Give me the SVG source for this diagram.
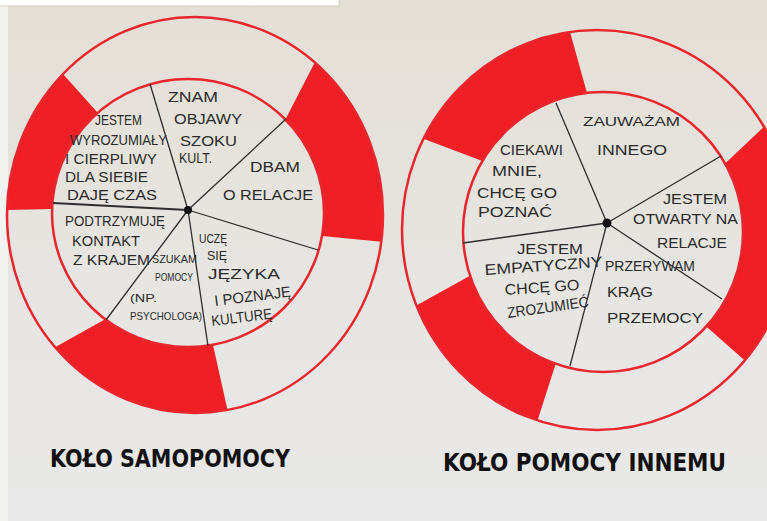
<svg xmlns="http://www.w3.org/2000/svg" width="767" height="521" viewBox="0 0 767 521">
<defs>
<linearGradient id="paper" x1="0" y1="0" x2="0" y2="1">
<stop offset="0" stop-color="#e4dfd6"/>
<stop offset="0.5" stop-color="#e7e5e1"/>
<stop offset="1" stop-color="#e9e9e9"/>
</linearGradient>
<style>
.red{fill:#f01f26;stroke:none}
.rim{fill:none;stroke:#e8262e;stroke-width:2.5}
.spoke{stroke:#2e2e2e;stroke-width:1.3;fill:none}
.hub{fill:#111}
.t{font-family:"Liberation Sans","DejaVu Sans",sans-serif;font-size:15px;fill:#2a2a2a}
.s{font-family:"Liberation Sans","DejaVu Sans",sans-serif;font-size:11px;fill:#2a2a2a}
.lbl{font-family:"DejaVu Sans","Liberation Sans",sans-serif;font-size:24px;font-weight:bold;fill:#111}
</style>
</defs>
<rect x="0" y="0" width="767" height="521" fill="url(#paper)"/>
<rect x="0" y="0" width="8" height="521" fill="#f3f3f1"/>
<rect x="-1" y="-1" width="340" height="7" fill="#ffffff" stroke="#d9ccb8" stroke-width="1"/>

<g id="ring-left">
<path class="red" d="M315,62 A188,198 0 0 1 381.3,241.7 L322,236 A136,134 0 0 0 285.4,119.5 Z"/>
<path class="red" d="M227.5,410 A188,198 0 0 1 55,347.2 L105.2,319.3 A136,134 0 0 0 213,345 Z"/>
<path class="red" d="M7,210 A188,198 0 0 1 63,74 L97.7,112.8 A136,134 0 0 0 52,209 Z"/>
<ellipse class="rim" cx="195" cy="215" rx="188" ry="198"/>
<ellipse class="rim" cx="188" cy="213" rx="136" ry="134"/>
</g>

<g id="ring-right">
<path class="red" d="M423.5,138.8 A195,200 0 0 1 570,32 L587,92.9 A140,140 0 0 0 482.3,161.1 Z"/>
<path class="red" d="M764,126.8 A195,200 0 0 1 744.8,360.4 L706.3,326.4 A140,140 0 0 0 725.1,163.6 Z"/>
<path class="red" d="M537.5,420.5 A195,200 0 0 1 416.4,305.4 L470,275.7 A140,140 0 0 0 555.7,363.8 Z"/>
<ellipse class="rim" cx="597" cy="230" rx="195" ry="200"/>
<ellipse class="rim" cx="603" cy="232" rx="140" ry="140"/>
</g>

<g id="connectors">
<line class="spoke" x1="188" y1="210" x2="150" y2="84"/>
<line class="spoke" x1="188" y1="210" x2="286" y2="119"/>
<line class="spoke" x1="188" y1="210" x2="318" y2="250"/>
<line class="spoke" x1="188" y1="210" x2="208" y2="346"/>
<line class="spoke" x1="188" y1="210" x2="106" y2="320"/>
<line class="spoke" x1="188" y1="210" x2="53" y2="203" style="stroke-width:2"/>
<line class="spoke" x1="607" y1="223" x2="556" y2="103"/>
<line class="spoke" x1="607" y1="223" x2="721" y2="156"/>
<line class="spoke" x1="607" y1="223" x2="722" y2="299"/>
<line class="spoke" x1="607" y1="223" x2="570" y2="366"/>
<line class="spoke" x1="607" y1="223" x2="463" y2="243"/>
<circle class="hub" cx="188" cy="210" r="4"/>
<circle class="hub" cx="607" cy="223" r="4.5"/>
</g>

<g id="node-znam-objawy">
<text class="t" x="168" y="102" textLength="50" lengthAdjust="spacingAndGlyphs">ZNAM</text>
<text class="t" x="174" y="124" textLength="68" lengthAdjust="spacingAndGlyphs">OBJAWY</text>
<text class="t" x="180" y="146" textLength="57" lengthAdjust="spacingAndGlyphs">SZOKU</text>
<text class="t" x="179" y="163" textLength="33" lengthAdjust="spacingAndGlyphs">KULT.</text>
</g>
<g id="node-dbam">
<text class="t" x="250" y="172" textLength="50" lengthAdjust="spacingAndGlyphs">DBAM</text>
<text class="t" x="223" y="200" textLength="90" lengthAdjust="spacingAndGlyphs">O RELACJE</text>
</g>
<g id="node-jestem-wyrozumialy">
<text class="t" x="95" y="125" textLength="47" lengthAdjust="spacingAndGlyphs">JESTEM</text>
<text class="t" x="70" y="145" textLength="97" lengthAdjust="spacingAndGlyphs">WYROZUMIAŁY</text>
<text class="t" x="65" y="164" textLength="92" lengthAdjust="spacingAndGlyphs">I CIERPLIWY</text>
<text class="t" x="65" y="182" textLength="83" lengthAdjust="spacingAndGlyphs">DLA SIEBIE</text>
<text class="t" x="67" y="200" textLength="90" lengthAdjust="spacingAndGlyphs">DAJĘ CZAS</text>
</g>
<g id="node-podtrzymuje">
<text class="t" x="65" y="226" textLength="100" lengthAdjust="spacingAndGlyphs">PODTRZYMUJĘ</text>
<text class="t" x="72" y="246" textLength="68" lengthAdjust="spacingAndGlyphs">KONTAKT</text>
<text class="t" x="73" y="265" textLength="77" lengthAdjust="spacingAndGlyphs">Z KRAJEM</text>
</g>
<g id="node-szukam-pomocy">
<text class="s" x="152" y="263" textLength="45" lengthAdjust="spacingAndGlyphs">SZUKAM</text>
<text class="s" x="155" y="281" textLength="38" lengthAdjust="spacingAndGlyphs">POMOCY</text>
<text class="s" x="130" y="302" textLength="27" lengthAdjust="spacingAndGlyphs">(NP.</text>
<text class="s" x="130" y="320" textLength="72" lengthAdjust="spacingAndGlyphs">PSYCHOLOGA)</text>
</g>
<g id="node-ucze-sie">
<text class="t" x="199" y="243" textLength="28" lengthAdjust="spacingAndGlyphs" style="font-size:12px">UCZĘ</text>
<text class="t" x="207" y="260" textLength="20" lengthAdjust="spacingAndGlyphs" style="font-size:12px">SIĘ</text>
<text class="t" x="208" y="279" textLength="72" lengthAdjust="spacingAndGlyphs">JĘZYKA</text>
<text class="t" x="215" y="306" textLength="77" lengthAdjust="spacingAndGlyphs" transform="rotate(-7 215 306)">I POZNAJĘ</text>
<text class="t" x="212" y="326" textLength="61" lengthAdjust="spacingAndGlyphs" transform="rotate(-7 212 326)">KULTURĘ</text>
</g>

<g id="node-zauwazam">
<text class="t" x="583" y="126" textLength="97" lengthAdjust="spacingAndGlyphs" style="font-size:13px">ZAUWAŻAM</text>
<text class="t" x="597" y="155" textLength="70" lengthAdjust="spacingAndGlyphs">INNEGO</text>
</g>
<g id="node-ciekawi">
<text class="t" x="500" y="155" textLength="63" lengthAdjust="spacingAndGlyphs">CIEKAWI</text>
<text class="t" x="492" y="176" textLength="50" lengthAdjust="spacingAndGlyphs">MNIE,</text>
<text class="t" x="477" y="198" textLength="80" lengthAdjust="spacingAndGlyphs">CHCĘ GO</text>
<text class="t" x="478" y="217" textLength="74" lengthAdjust="spacingAndGlyphs">POZNAĆ</text>
</g>
<g id="node-otwarty">
<text class="t" x="663" y="204" textLength="64" lengthAdjust="spacingAndGlyphs">JESTEM</text>
<text class="t" x="633" y="224" textLength="105" lengthAdjust="spacingAndGlyphs">OTWARTY NA</text>
<text class="t" x="657" y="248" textLength="70" lengthAdjust="spacingAndGlyphs">RELACJE</text>
</g>
<g id="node-empatyczny">
<text class="t" x="517" y="254" textLength="66" lengthAdjust="spacingAndGlyphs">JESTEM</text>
<text class="t" x="485" y="275" textLength="118" lengthAdjust="spacingAndGlyphs" transform="rotate(-4 485 275)">EMPATYCZNY</text>
<text class="t" x="505" y="295" textLength="75" lengthAdjust="spacingAndGlyphs" transform="rotate(-4 505 295)">CHCĘ GO</text>
<text class="t" x="508" y="318" textLength="82" lengthAdjust="spacingAndGlyphs" transform="rotate(-8 508 318)">ZROZUMIEĆ</text>
</g>
<g id="node-przerywam">
<text class="t" x="605" y="271" textLength="90" lengthAdjust="spacingAndGlyphs">PRZERYWAM</text>
<text class="t" x="607" y="297" textLength="46" lengthAdjust="spacingAndGlyphs">KRĄG</text>
<text class="t" x="607" y="323" textLength="96" lengthAdjust="spacingAndGlyphs">PRZEMOCY</text>
</g>

<g id="label-left">
<text class="lbl" x="50" y="467" textLength="240" lengthAdjust="spacingAndGlyphs">KOŁO SAMOPOMOCY</text>
</g>
<g id="label-right">
<text class="lbl" x="443" y="471" textLength="283" lengthAdjust="spacingAndGlyphs">KOŁO POMOCY INNEMU</text>
</g>
</svg>
